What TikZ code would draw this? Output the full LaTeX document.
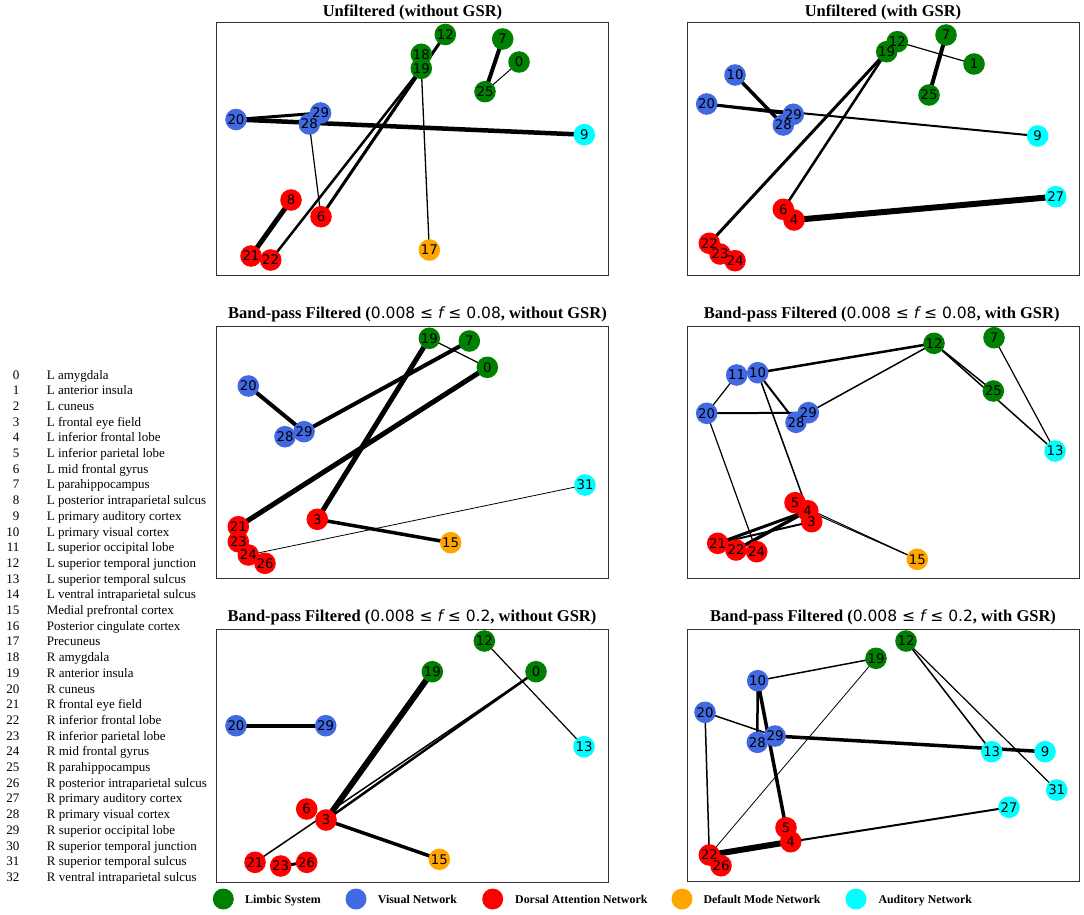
\documentclass[tikz,border=0pt]{standalone}
\usepackage{fontspec}
\setmainfont{Liberation Serif}
\newfontfamily\dejavu{DejaVu Sans}
\definecolor{mgreen}{RGB}{0,128,0}
\definecolor{mblue}{RGB}{65,105,225}
\definecolor{mred}{RGB}{255,0,0}
\definecolor{morange}{RGB}{255,165,0}
\definecolor{mcyan}{RGB}{0,255,255}
\pgfdeclarelayer{bglayer}
\pgfdeclarelayer{edgelayer}
\pgfdeclarelayer{disclayer}
\pgfsetlayers{bglayer,edgelayer,disclayer,main}
\newcommand\gnode[4]{%
  \begin{pgfonlayer}{disclayer}\fill[#3] (#4) circle (10.8);\end{pgfonlayer}%
  \node[nd] (#1#2) at (#4) {#2};}
\newcommand\edg[3]{\draw[ed=#1] (#2.center) -- (#3.center);}
\newcommand\mth[2]{{\dejavu\mdseries\fontsize{15.5}{18}\selectfont #1 ≤ {\itshape f} ≤ #2}}
\begin{document}
\begin{tikzpicture}[x=1pt,y=-1pt,
  nd/.style={circle,minimum size=21pt,inner sep=0pt,font=\dejavu\fontsize{13.3}{13}\selectfont},
  ttl/.style={anchor=base,font=\bfseries\fontsize{16.5}{18}\selectfont,inner sep=0pt},
  ed/.style={line width=#1,black},
  frame/.style={draw=black!80,line width=1pt},
  lg/.style={anchor=base west,font=\bfseries\fontsize{11.9}{13}\selectfont,inner sep=0pt},
  num/.style={anchor=base east,font=\fontsize{13}{15}\selectfont,inner sep=0pt},
  nm/.style={anchor=base west,font=\fontsize{13}{15}\selectfont,inner sep=0pt}]
\begin{pgfonlayer}{bglayer}
\fill[white] (0,0) rectangle (1084,915);
\end{pgfonlayer}
\useasboundingbox (0,0) rectangle (1084,915);

% ---------- frames and titles
\draw[frame] (216,22.7) rectangle (608,275);
\draw[frame] (687,22.7) rectangle (1079,275);
\draw[frame] (216,326) rectangle (608,578);
\draw[frame] (687,326) rectangle (1079,578);
\draw[frame] (216,629) rectangle (608,882);
\draw[frame] (687,629) rectangle (1079,881);
\node[ttl] (t1) at (412.5,16.5) {Unfiltered (without GSR)};
\node[ttl] (t2) at (883,16.5) {Unfiltered (with GSR)};
\node[ttl] (t3) at (417.5,318.5) {Band-pass Filtered (\mth{0.008}{0.08}, without GSR)};
\node[ttl] (t4) at (881.7,318.5) {Band-pass Filtered (\mth{0.008}{0.08}, with GSR)};
\node[ttl] (t5) at (412,621.5) {Band-pass Filtered (\mth{0.008}{0.2}, without GSR)};
\node[ttl] (t6) at (883,621.5) {Band-pass Filtered (\mth{0.008}{0.2}, with GSR)};

% ---------- panel a
\gnode{a}{12}{mgreen}{445.3,34.5}
\gnode{a}{18}{mgreen}{421.3,54.3}
\gnode{a}{19}{mgreen}{421.3,68.3}
\gnode{a}{7}{mgreen}{502.7,39}
\gnode{a}{0}{mgreen}{519,62}
\gnode{a}{25}{mgreen}{485,91.7}
\gnode{a}{29}{mblue}{320.5,113}
\gnode{a}{28}{mblue}{309.3,124}
\gnode{a}{20}{mblue}{236,119.5}
\gnode{a}{9}{mcyan}{584.3,134.7}
\gnode{a}{8}{mred}{291,200}
\gnode{a}{6}{mred}{321,216.7}
\gnode{a}{21}{mred}{251,256}
\gnode{a}{22}{mred}{270.7,260}
\gnode{a}{17}{morange}{429.3,250}
\begin{pgfonlayer}{edgelayer}
\edg{3}{a20}{a29}
\edg{4.5}{a20}{a9}
\edg{1.2}{a28}{a6}
\edg{3}{a12}{a6}
\edg{2}{a19}{a6}
\edg{2.5}{a19}{a22}
\edg{1.3}{a19}{a17}
\edg{5}{a8}{a21}
\edg{4}{a7}{a25}
\edg{1}{a0}{a25}
\end{pgfonlayer}

% ---------- panel b
\gnode{b}{12}{mgreen}{897.3,41.7}
\gnode{b}{19}{mgreen}{886.7,51.7}
\gnode{b}{7}{mgreen}{946,35}
\gnode{b}{1}{mgreen}{974,64}
\gnode{b}{25}{mgreen}{929,95}
\gnode{b}{10}{mblue}{735,75}
\gnode{b}{20}{mblue}{706.7,104}
\gnode{b}{29}{mblue}{793.3,114.3}
\gnode{b}{28}{mblue}{783.3,125}
\gnode{b}{9}{mcyan}{1037.7,136}
\gnode{b}{27}{mcyan}{1055.7,196.7}
\gnode{b}{6}{mred}{783.3,209.3}
\gnode{b}{4}{mred}{794,220}
\gnode{b}{22}{mred}{709.3,243.3}
\gnode{b}{23}{mred}{720,254}
\gnode{b}{24}{mred}{735,260.7}
\begin{pgfonlayer}{edgelayer}
\edg{1.2}{b12}{b1}
\edg{4}{b7}{b25}
\edg{3.5}{b10}{b28}
\edg{3}{b20}{b29}
\edg{2}{b20}{b9}
\edg{3}{b19}{b22}
\edg{2.5}{b19}{b6}
\edg{6}{b4}{b27}
\end{pgfonlayer}

% ---------- panel c
\gnode{c}{19}{mgreen}{429.3,338.3}
\gnode{c}{7}{mgreen}{469.3,341}
\gnode{c}{0}{mgreen}{487.3,367.3}
\gnode{c}{20}{mblue}{248.3,386}
\gnode{c}{28}{mblue}{285,436.7}
\gnode{c}{29}{mblue}{304,431.7}
\gnode{c}{31}{mcyan}{585,485}
\gnode{c}{3}{mred}{317.3,519.3}
\gnode{c}{15}{morange}{450.7,542.7}
\gnode{c}{21}{mred}{238.3,526.7}
\gnode{c}{23}{mred}{238.3,541.7}
\gnode{c}{24}{mred}{248.3,555}
\gnode{c}{26}{mred}{265,563.3}
\begin{pgfonlayer}{edgelayer}
\edg{1.2}{c19}{c0}
\edg{4}{c20}{c29}
\edg{4}{c29}{c7}
\edg{5}{c19}{c3}
\edg{5}{c0}{c21}
\edg{3.5}{c3}{c15}
\edg{0.8}{c24}{c31}
\end{pgfonlayer}

% ---------- panel d
\gnode{d}{12}{mgreen}{934,343.3}
\gnode{d}{7}{mgreen}{994,337.7}
\gnode{d}{25}{mgreen}{993.3,391}
\gnode{d}{13}{mcyan}{1055,451}
\gnode{d}{11}{mblue}{736.7,375}
\gnode{d}{10}{mblue}{757.7,372.7}
\gnode{d}{20}{mblue}{706.7,413.3}
\gnode{d}{29}{mblue}{808.3,412.7}
\gnode{d}{28}{mblue}{796,422.3}
\gnode{d}{5}{mred}{795,502.7}
\gnode{d}{4}{mred}{807.7,510.7}
\gnode{d}{3}{mred}{811.7,521.7}
\gnode{d}{21}{mred}{717.7,543.3}
\gnode{d}{22}{mred}{736,550}
\gnode{d}{24}{mred}{756.7,551.7}
\gnode{d}{15}{morange}{917.3,559.3}
\begin{pgfonlayer}{edgelayer}
\edg{2.5}{d10}{d12}
\edg{1.5}{d29}{d12}
\edg{1.5}{d12}{d25}
\edg{1.5}{d12}{d13}
\edg{1.2}{d7}{d13}
\edg{1.2}{d11}{d20}
\edg{2}{d20}{d29}
\edg{2}{d10}{d28}
\edg{1.5}{d10}{d4}
\edg{1.2}{d20}{d24}
\edg{3}{d21}{d4}
\edg{3.5}{d22}{d4}
\edg{2}{d21}{d3}
\edg{1}{d5}{d15}
\edg{1}{d4}{d15}
\end{pgfonlayer}

% ---------- panel e
\gnode{e}{12}{mgreen}{484.3,641}
\gnode{e}{19}{mgreen}{432.3,671.7}
\gnode{e}{0}{mgreen}{536,671.7}
\gnode{e}{20}{mblue}{236,725.7}
\gnode{e}{29}{mblue}{325.7,725.7}
\gnode{e}{13}{mcyan}{584,746.7}
\gnode{e}{6}{mred}{306.7,809}
\gnode{e}{3}{mred}{326,820}
\gnode{e}{21}{mred}{255,862.3}
\gnode{e}{23}{mred}{280.7,866}
\gnode{e}{26}{mred}{306.7,862.3}
\gnode{e}{15}{morange}{439.3,859.3}
\begin{pgfonlayer}{edgelayer}
\edg{1.2}{e12}{e13}
\edg{4}{e20}{e29}
\edg{6}{e3}{e19}
\edg{2.5}{e3}{e0}
\edg{1.5}{e21}{e0}
\edg{3.5}{e3}{e15}
\edg{3}{e23}{e26}
\end{pgfonlayer}

% ---------- panel f
\gnode{f}{12}{mgreen}{906,641}
\gnode{f}{19}{mgreen}{876,658.3}
\gnode{f}{10}{mblue}{757.7,680.7}
\gnode{f}{20}{mblue}{705,712.3}
\gnode{f}{28}{mblue}{757.3,742.3}
\gnode{f}{29}{mblue}{775,736}
\gnode{f}{13}{mcyan}{991.7,751.7}
\gnode{f}{9}{mcyan}{1045,751.7}
\gnode{f}{31}{mcyan}{1056.7,790}
\gnode{f}{27}{mcyan}{1009,807.3}
\gnode{f}{5}{mred}{786,827.7}
\gnode{f}{4}{mred}{790.7,841.7}
\gnode{f}{22}{mred}{709.3,855}
\gnode{f}{26}{mred}{721,865.7}
\begin{pgfonlayer}{edgelayer}
\edg{1.5}{f10}{f19}
\edg{2.5}{f10}{f28}
\edg{3.5}{f10}{f5}
\edg{1.5}{f20}{f29}
\edg{1.5}{f20}{f22}
\edg{3.5}{f29}{f9}
\edg{1.5}{f12}{f13}
\edg{1.2}{f12}{f31}
\edg{0.8}{f19}{f22}
\edg{6}{f22}{f4}
\edg{2}{f4}{f27}
\end{pgfonlayer}

% ---------- region list
\foreach \i/\t in {0/L amygdala,1/L anterior insula,2/L cuneus,3/L frontal eye field,
  4/L inferior frontal lobe,5/L inferior parietal lobe,6/L mid frontal gyrus,
  7/L parahippocampus,8/L posterior intraparietal sulcus,9/L primary auditory cortex,
  10/L primary visual cortex,11/L superior occipital lobe,12/L superior temporal junction,
  13/L superior temporal sulcus,14/L ventral intraparietal sulcus,15/Medial prefrontal cortex,
  16/Posterior cingulate cortex,17/Precuneus,18/R amygdala,19/R anterior insula,
  20/R cuneus,21/R frontal eye field,22/R inferior frontal lobe,23/R inferior parietal lobe,
  24/R mid frontal gyrus,25/R parahippocampus,26/R posterior intraparietal sulcus,
  27/R primary auditory cortex,28/R primary visual cortex,29/R superior occipital lobe,
  30/R superior temporal junction,31/R superior temporal sulcus,32/R ventral intraparietal sulcus}
{
  \node[num] (num\i) at (19.5,{379+15.7*\i}) {\i};
  \node[nm] (name\i) at (46.7,{379+15.7*\i}) {\t};
}

% ---------- legend
\fill[mgreen] (223.3,899) circle (10.5);
\node[lg] (lg1) at (245,903) {Limbic System};
\fill[mblue] (356,899) circle (10.5);
\node[lg] (lg2) at (377.7,903) {Visual Network};
\fill[mred] (492.7,899) circle (10.5);
\node[lg] (lg3) at (515,903) {Dorsal Attention Network};
\fill[morange] (682,899) circle (10.5);
\node[lg] (lg4) at (703.3,903) {Default Mode Network};
\fill[mcyan] (856,899) circle (10.5);
\node[lg] (lg5) at (878.3,903) {Auditory Network};
\end{tikzpicture}
\end{document}
